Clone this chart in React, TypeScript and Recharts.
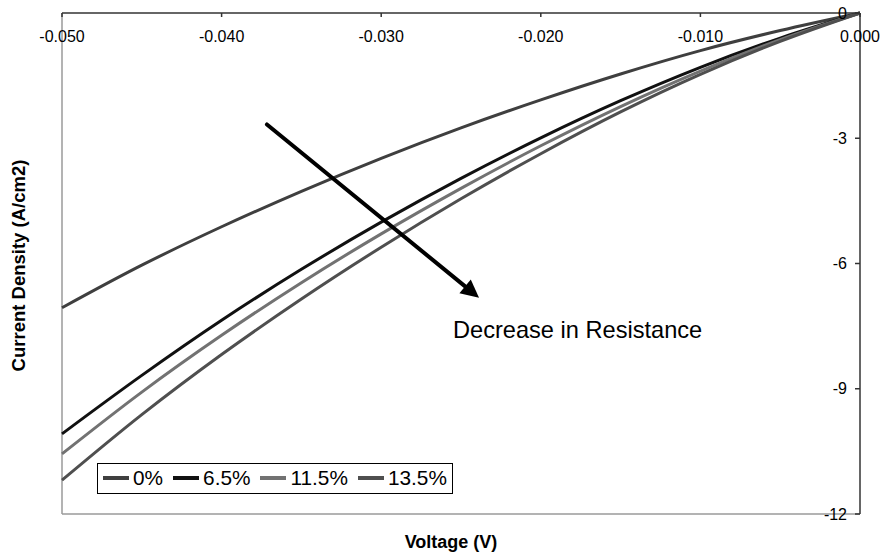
import React from 'react';
import { LineChart, Line, XAxis, YAxis, ReferenceLine, ReferenceDot, Legend } from 'recharts';

const voltages = [-0.05, -0.045, -0.04, -0.035, -0.03, -0.025, -0.02, -0.015, -0.01, -0.005, 0];
const seriesNames = ['0%', '6.5%', '11.5%', '13.5%'];
const current0 = [-7.06, -6.04, -5.12, -4.27, -3.48, -2.75, -2.08, -1.46, -0.9, -0.42, 0];
const current65 = [-10.08, -8.68, -7.36, -6.14, -5.01, -3.96, -2.99, -2.1, -1.3, -0.6, 0];
const current115 = [-10.56, -9.08, -7.72, -6.46, -5.29, -4.2, -3.18, -2.24, -1.39, -0.64, 0];
const current135 = [-11.19, -9.62, -8.18, -6.85, -5.61, -4.45, -3.37, -2.37, -1.47, -0.68, 0];
const xTicks = [-0.05, -0.04, -0.03, -0.02, -0.01, 0];
const yTicks = [0, -3, -6, -9, -12];
const seriesColors = ['#3f3f3f', '#111111', '#727272', '#4f4f4f'];
const arrowStart = { x: -0.03716, y: -2.67 };
const arrowEnd = { x: -0.02387, y: -6.82 };
const noteAnchor = { x: -0.0255, y: -7.78 };
const noteText = 'Decrease in Resistance';
const xTitle = 'Voltage (V)';
const yTitle = 'Current Density (A/cm2)';

const allSeries = [current0, current65, current115, current135];
const data = voltages.map((v, i) => {
  const row: Record<string, number> = { v };
  seriesNames.forEach((n, k) => {
    row[n] = allSeries[k][i];
  });
  return row;
});

const FONT = '"Liberation Sans", Arial, Helvetica, sans-serif';

const ArrowShape = (props: any) => {
  const x1 = props.x1 ?? props.points?.[0]?.x;
  const y1 = props.y1 ?? props.points?.[0]?.y;
  const x2 = props.x2 ?? props.points?.[1]?.x;
  const y2 = props.y2 ?? props.points?.[1]?.y;
  if (![x1, y1, x2, y2].every((n) => typeof n === 'number' && isFinite(n))) return null;
  const dx = x2 - x1;
  const dy = y2 - y1;
  const len = Math.hypot(dx, dy) || 1;
  const ux = dx / len;
  const uy = dy / len;
  const head = 18;
  const half = 9;
  const bx = x2 - ux * head;
  const by = y2 - uy * head;
  return (
    <g>
      <line x1={x1} y1={y1} x2={bx + ux * 2} y2={by + uy * 2} stroke="#000" strokeWidth={4} strokeLinecap="round" />
      <polygon
        points={`${x2},${y2} ${bx - uy * half},${by + ux * half} ${bx + uy * half},${by - ux * half}`}
        fill="#000"
      />
    </g>
  );
};

const NoteLabel = (props: any) => {
  const vb = props.viewBox || {};
  return (
    <text x={vb.x} y={vb.y} textAnchor="start" fontFamily={FONT} fontSize={23.6} fill="#000">
      {noteText}
    </text>
  );
};

const XTitleLabel = (props: any) => {
  const vb = props.viewBox || {};
  return (
    <text
      x={vb.x + (vb.width || 0) / 2 - 10}
      y={vb.y + 28}
      textAnchor="middle"
      dominantBaseline="central"
      fontFamily={FONT}
      fontSize={18}
      fontWeight="bold"
      fill="#000"
    >
      {xTitle}
    </text>
  );
};

const YTitleLabel = (props: any) => {
  const vb = props.viewBox || {};
  const cx = vb.x - 44;
  const cy = vb.y + (vb.height || 0) / 2 + 2;
  return (
    <text
      x={cx}
      y={cy}
      transform={`rotate(-90, ${cx}, ${cy})`}
      textAnchor="middle"
      dominantBaseline="central"
      fontFamily={FONT}
      fontSize={18.5}
      fontWeight="bold"
      fill="#000"
    >
      {yTitle}
    </text>
  );
};

const renderLegend = (props: any) => {
  const payload = props.payload || [];
  const ordered = seriesNames
    .map((n) => payload.find((p: any) => p.value === n))
    .filter(Boolean);
  return (
    <div
      style={{
        display: 'inline-flex',
        alignItems: 'center',
        border: '1px solid #000',
        background: '#fff',
        height: 29,
        padding: '0 5px',
        fontFamily: FONT,
        fontSize: 20.8,
        color: '#000',
        lineHeight: 1,
        whiteSpace: 'nowrap',
      }}
    >
      {ordered.map((entry: any, i: number) => (
        <span
          key={entry.value}
          style={{ display: 'inline-flex', alignItems: 'center', marginRight: i < ordered.length - 1 ? 10 : 0 }}
        >
          <span
            style={{ display: 'inline-block', width: 26, height: 4, background: entry.color, marginRight: 4 }}
          />
          {entry.value}
        </span>
      ))}
    </div>
  );
};

export default function App() {
  return (
    <div style={{ position: 'absolute', left: 0, top: 0, width: 884, height: 556, background: '#fff' }}>
      <LineChart width={884} height={556} data={data} margin={{ top: 13, right: 24, bottom: 42, left: 62 }}>
        <XAxis
          dataKey="v"
          type="number"
          orientation="top"
          mirror
          domain={[-0.05, 0]}
          ticks={xTicks}
          interval={0}
          tickFormatter={(v: number) => v.toFixed(3)}
          tickSize={4}
          tickMargin={14}
          axisLine={{ stroke: '#333', strokeWidth: 1.5 }}
          tickLine={{ stroke: '#333', strokeWidth: 1.5 }}
          tick={{ fontFamily: FONT, fontSize: 16, fill: '#000' }}
        />
        <YAxis
          type="number"
          orientation="right"
          mirror
          domain={[-12, 0]}
          ticks={yTicks}
          interval={0}
          tickSize={5}
          tickMargin={8}
          axisLine={{ stroke: '#333', strokeWidth: 1.5 }}
          tickLine={{ stroke: '#333', strokeWidth: 1.5 }}
          tick={{ fontFamily: FONT, fontSize: 16, fill: '#000' }}
        />
        <ReferenceLine x={-0.05} stroke="#9a9a9a" strokeWidth={1.5} label={<YTitleLabel />} />
        <ReferenceLine y={-12} stroke="#9a9a9a" strokeWidth={1.5} label={<XTitleLabel />} />
        {seriesNames.map((n, i) => (
          <Line
            key={n}
            dataKey={n}
            name={n}
            type="monotone"
            stroke={seriesColors[i]}
            strokeWidth={3}
            dot={false}
            activeDot={false}
            isAnimationActive={false}
          />
        ))}
        <ReferenceLine segment={[arrowStart, arrowEnd]} shape={<ArrowShape />} stroke="#000" />
        <ReferenceDot x={noteAnchor.x} y={noteAnchor.y} r={0} fill="none" stroke="none" label={<NoteLabel />} />
        <Legend
          layout="horizontal"
          verticalAlign="middle"
          align="center"
          content={renderLegend}
          wrapperStyle={{ position: 'absolute', left: 97, top: 463, width: 'auto', height: 'auto' }}
        />
      </LineChart>
    </div>
  );
}
